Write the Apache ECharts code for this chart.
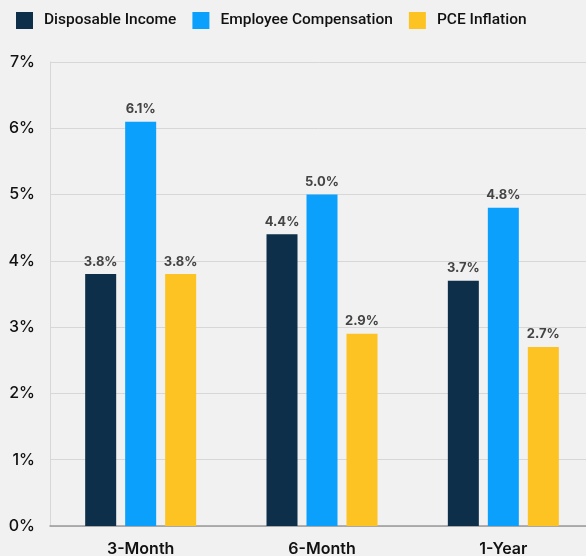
<!DOCTYPE html>
<html>
<head>
<meta charset="utf-8">
<script src="https://cdn.jsdelivr.net/npm/echarts@6/dist/echarts.min.js"></script>
<style>
  html, body { margin: 0; padding: 0; background: #f0f1f0; }
  #chart { width: 586px; height: 556px; }
</style>
</head>
<body>
<div id="chart"></div>
<script>
// periods on the x axis
const periods = ['3-Month', '6-Month', '1-Year'];
// series values (percent)
const disposableIncome = [3.8, 4.4, 3.7];
const employeeComp = [6.1, 5.0, 4.8];
const pceInflation = [3.8, 2.9, 2.7];

const colors = ['#0e2f4a', '#0aa0fc', '#fdc322'];
const font = 'Inter, "Noto Sans", sans-serif';

function barSeries(name, data) {
  return {
    name: name,
    type: 'bar',
    data: data,
    barWidth: 31,
    barGap: '29%',
    label: {
      show: true,
      position: 'top',
      distance: 6,
      color: '#444',
      fontFamily: font,
      fontWeight: 'bold',
      fontSize: 13,
      formatter: p => p.value.toFixed(1) + '%'
    }
  };
}

const chart = echarts.init(document.getElementById('chart'));
chart.setOption({
  backgroundColor: '#f0f1f0',
  color: colors,
  animation: false,
  legend: {
    left: 16,
    top: 12,
    padding: 0,
    itemWidth: 17,
    itemHeight: 17,
    itemGap: 16,
    icon: 'rect',
    textStyle: { fontFamily: 'Roboto, sans-serif', fontSize: 15.5, fontWeight: 500, color: '#111', padding: [0, 0, 0, 6] }
  },
  grid: { left: 50, top: 62, width: 544, bottom: 30, outerBoundsMode: 'none' },
  xAxis: {
    type: 'category',
    data: periods,
    axisLine: { lineStyle: { color: '#999', width: 1.5 } },
    axisTick: { show: false },
    axisLabel: { fontFamily: font, fontSize: 16, fontWeight: 600, color: '#111', margin: 15 }
  },
  yAxis: {
    type: 'value',
    min: 0,
    max: 7,
    interval: 1,
    axisLine: { show: true, lineStyle: { color: '#d6d7d6' } },
    splitLine: { lineStyle: { color: '#d6d7d6' } },
    axisLabel: {
      fontFamily: font, fontSize: 16, fontWeight: 500, color: '#111', margin: 15,
      formatter: v => v + '%'
    }
  },
  series: [
    barSeries('Disposable Income', disposableIncome),
    barSeries('Employee Compensation', employeeComp),
    barSeries('PCE Inflation', pceInflation)
  ]
});
</script>
</body>
</html>
